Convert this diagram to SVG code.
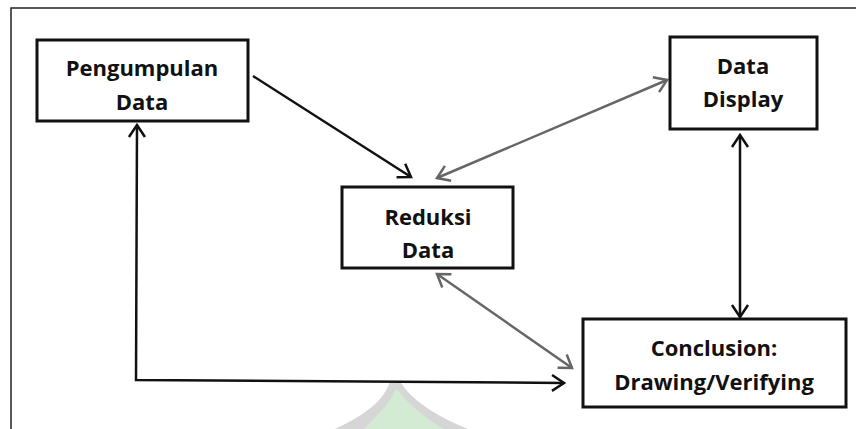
<svg xmlns="http://www.w3.org/2000/svg" width="856" height="429" viewBox="0 0 856 429">
  <style>
    .box { fill: #ffffff; stroke: #111111; stroke-width: 3; }
    .label { font-family: "Open Sans", "Liberation Sans", sans-serif; font-weight: bold; font-size: 22px; fill: #111111; text-anchor: middle; }
    .dark { fill: none; stroke: #111111; stroke-width: 2.5; }
    .grey { fill: none; stroke: #666666; stroke-width: 2.5; }
  </style>
  <defs>
    <marker id="headDark" viewBox="0 -10 20 20" markerWidth="20" markerHeight="20" refX="15" refY="0" markerUnits="userSpaceOnUse" orient="auto-start-reverse">
      <path d="M3,-8 L15,0 L3,8" fill="none" stroke="#111111" stroke-width="2.5"/>
    </marker>
    <marker id="headGrey" viewBox="0 -10 20 20" markerWidth="20" markerHeight="20" refX="15" refY="0" markerUnits="userSpaceOnUse" orient="auto-start-reverse">
      <path d="M3,-8 L15,0 L3,8" fill="none" stroke="#666666" stroke-width="2.5"/>
    </marker>
  </defs>

  <rect x="0" y="0" width="856" height="429" fill="#ffffff"/>

  <!-- faint emblem at the lower edge -->
  <g id="emblem">
    <path d="M390,381 C385,400 365,415 335,429 L468,429 C440,418 410,400 400,381 Z" fill="#d6d6d6"/>
    <path d="M395,390 C390,404 378,414 364,429 L444,429 C425,418 408,404 398,390 Z" fill="#d3ead3"/>
  </g>

  <!-- frame -->
  <g id="frame" fill="none" stroke="#222222" stroke-width="1.5">
    <path d="M856,8 L11,8 L11,429"/>
  </g>

  <g id="connectors">
    <line class="dark" x1="253" y1="76" x2="411" y2="177" marker-end="url(#headDark)"/>
    <line class="grey" x1="437" y1="178" x2="667" y2="80" marker-start="url(#headGrey)" marker-end="url(#headGrey)"/>
    <line class="dark" x1="740" y1="135" x2="740" y2="317" marker-start="url(#headDark)" marker-end="url(#headDark)"/>
    <line class="grey" x1="437" y1="274" x2="572" y2="368" marker-start="url(#headGrey)" marker-end="url(#headGrey)"/>
    <polyline class="dark" points="137,125 136,380 564,383" marker-start="url(#headDark)" marker-end="url(#headDark)"/>
  </g>

  <g id="pengumpulan">
    <rect class="box" x="37" y="40" width="211" height="81"/>
    <text class="label" x="142" y="76">Pengumpulan</text>
    <text class="label" x="142" y="110">Data</text>
  </g>

  <g id="display">
    <rect class="box" x="670" y="37" width="147" height="92"/>
    <text class="label" x="743" y="74">Data</text>
    <text class="label" x="743" y="107">Display</text>
  </g>

  <g id="reduksi">
    <rect class="box" x="342" y="187" width="171" height="81"/>
    <text class="label" x="428" y="225">Reduksi</text>
    <text class="label" x="428" y="258">Data</text>
  </g>

  <g id="conclusion">
    <rect class="box" x="583" y="319" width="263" height="88"/>
    <text class="label" x="714" y="356">Conclusion:</text>
    <text class="label" x="714" y="390">Drawing/Verifying</text>
  </g>
</svg>
